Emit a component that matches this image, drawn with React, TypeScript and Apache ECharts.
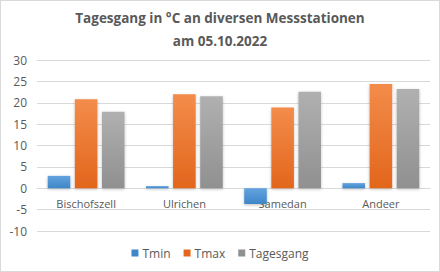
import React, { useEffect, useRef } from "react";
import * as echarts from "echarts";

const titleLines = ["Tagesgang in °C an diversen Messstationen", "am 05.10.2022"];
const stations = ["Bischofszell", "Ulrichen", "Samedan", "Andeer"];
const tmin = [2.9, 0.5, -3.7, 1.2];
const tmax = [20.8, 22.0, 18.9, 24.4];
const tagesgang = [17.9, 21.5, 22.6, 23.2];
const seriesNames = ["Tmin", "Tmax", "Tagesgang"];

const grad = (top: string, bottom: string) =>
  new echarts.graphic.LinearGradient(0, 0, 0, 1, [
    { offset: 0, color: top },
    { offset: 1, color: bottom },
  ]);

export default function App() {
  const ref = useRef<HTMLDivElement>(null);
  useEffect(() => {
    if (!ref.current) return;
    const chart = echarts.init(ref.current, undefined, { renderer: "svg" });
    const txt = "#595959";
    const font = "'Open Sans', sans-serif";
    const colors = [
      ["#62A3DE", "#3F86C8"],
      ["#F38C4A", "#E2661C"],
      ["#B0B0B0", "#909090"],
    ];
    const data = [tmin, tmax, tagesgang];
    chart.setOption({
      animation: false,
      backgroundColor: "#ffffff",
      title: {
        text: titleLines.join("\n"),
        left: "center",
        top: 0,
        textStyle: {
          color: txt,
          fontSize: 13.5,
          fontWeight: "bold",
          fontFamily: font,
          lineHeight: 23,
        },
      },
      legend: {
        bottom: 7,
        left: "center",
        itemWidth: 7,
        itemHeight: 7,
        itemGap: 13,
        icon: "rect",
        data: seriesNames.map((n, i) => ({ name: n, itemStyle: { color: colors[i][1] } })),
        textStyle: { color: txt, fontSize: 12, fontFamily: font, padding: [0, 0, 0, -1] },
      },
      grid: { left: 36, right: 9, top: 59, bottom: 40 },
      xAxis: {
        type: "category",
        data: stations,
        position: "bottom",
        offset: -43,
        axisTick: { show: false },
        axisLine: { onZero: false, lineStyle: { color: "#D9D9D9" } },
        axisLabel: { color: txt, fontSize: 11, fontFamily: font, margin: 10 },
      },
      yAxis: {
        type: "value",
        min: -10,
        max: 30,
        interval: 5,
        axisLine: { show: false },
        axisTick: { show: false },
        splitLine: { lineStyle: { color: "#D9D9D9" } },
        axisLabel: { color: txt, fontSize: 12, fontFamily: font, margin: 10 },
      },
      series: seriesNames.map((n, i) => ({
        name: n,
        type: "bar",
        data: data[i],
        barWidth: "23%",
        barGap: "20%",
        itemStyle: {
          color: grad(colors[i][0], colors[i][1]),
          shadowColor: "rgba(0,0,0,0.25)",
          shadowBlur: 3,
          shadowOffsetY: 1,
        },
      })),
    });
    return () => chart.dispose();
  }, []);
  return (
    <div
      style={{
        position: "absolute",
        left: 0,
        top: 0,
        width: 440,
        height: 272,
        boxSizing: "border-box",
        border: "1px solid #D9D9D9",
        background: "#fff",
      }}
    >
      <div ref={ref} style={{ width: 438, height: 270 }} />
    </div>
  );
}
